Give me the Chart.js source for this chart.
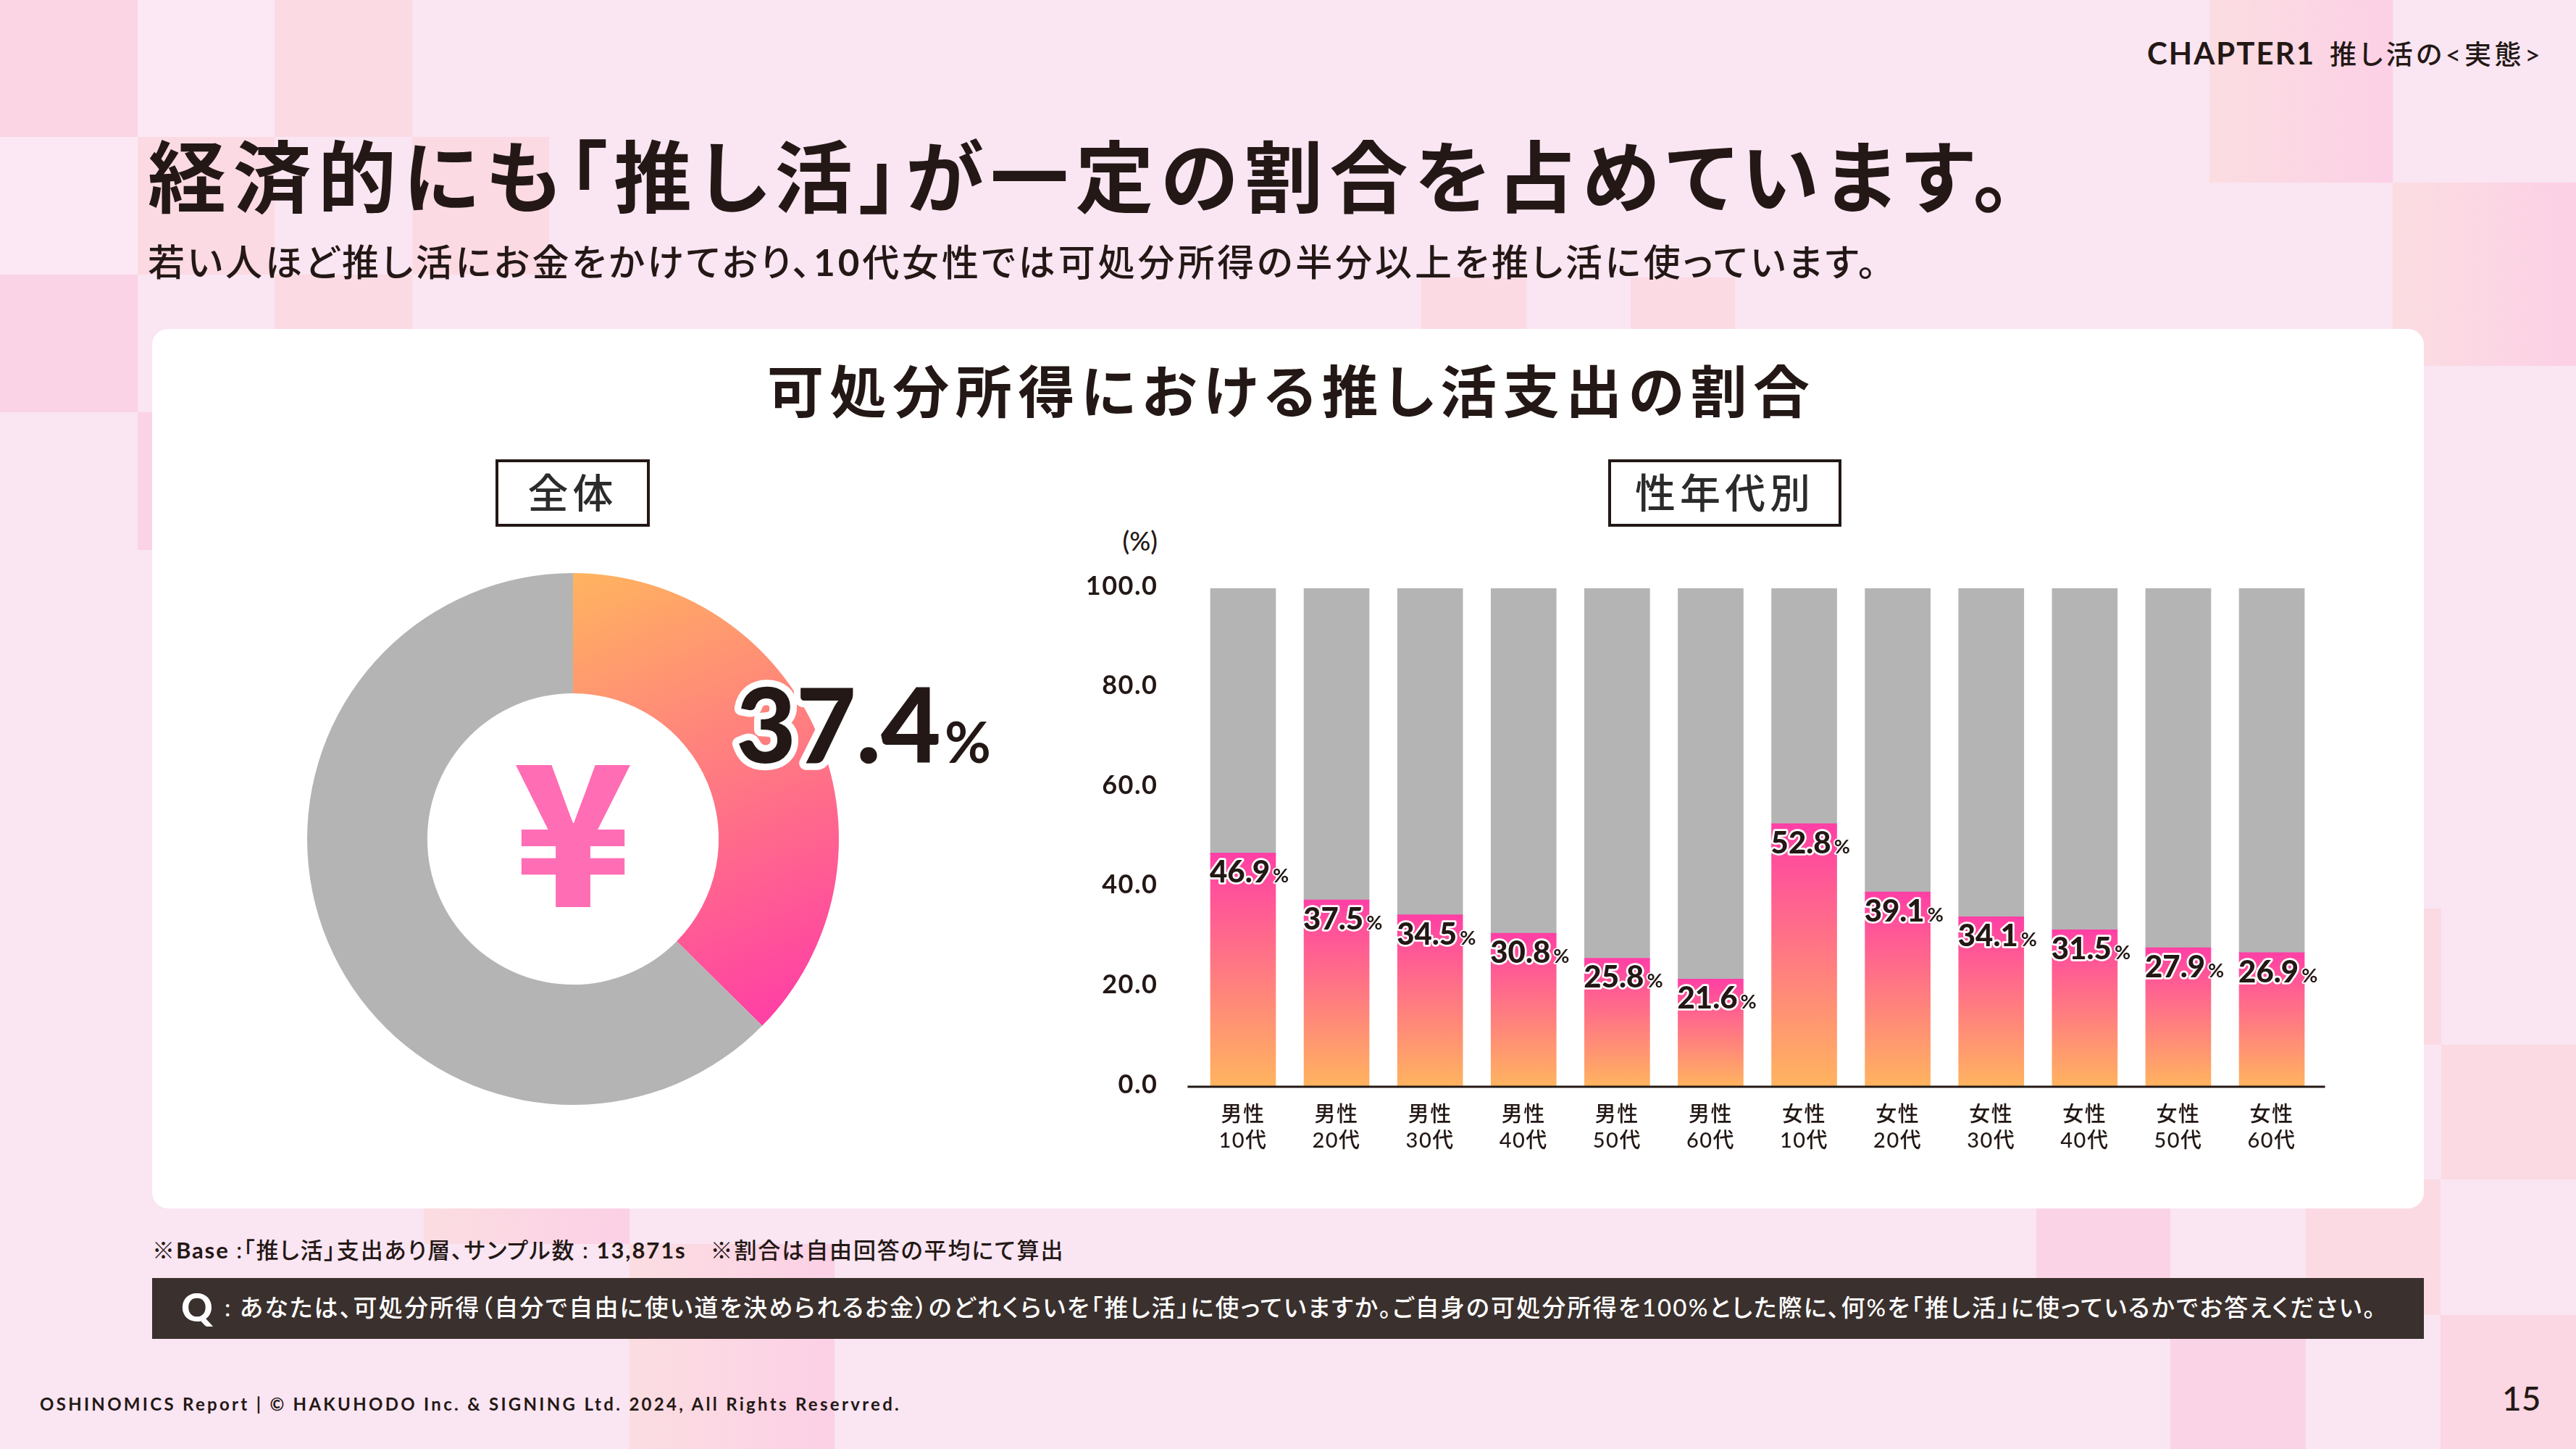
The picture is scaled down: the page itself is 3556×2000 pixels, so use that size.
<!DOCTYPE html>
<html lang="ja">
<head>
<meta charset="utf-8">
<title>可処分所得における推し活支出の割合</title>
<script src="https://cdn.jsdelivr.net/npm/chart.js@4"></script>
<style>
html, body { margin: 0; padding: 0; }
body { width: 3556px; height: 2000px; position: relative; overflow: hidden; background: #fae5f2;
  font-family: "Lato", "Noto Sans CJK JP", sans-serif; color: #231815; font-feature-settings: "palt"; }
.t { position: absolute; white-space: nowrap; }
.tile { position: absolute; }
.peach { background: #fbdae4; }
.pink { background: #fbd3e6; }
.pale { background: #fce8f4; }
.fade { background: linear-gradient(90deg, #fbdde1, #fcd0e6); }
#card { position: absolute; left: 210px; top: 454px; width: 3136px; height: 1214px; background: #fff; border-radius: 22px; }
.box { position: absolute; top: 634px; height: 93px; box-sizing: border-box; border: 4px solid #231815; background: #fff;
  text-align: center; line-height: 83px; font-size: 56px; font-weight: 500; letter-spacing: 6px; color: #2b2b2b; }
canvas { position: absolute; }
#qbar { position: absolute; left: 210px; top: 1764px; width: 3136px; height: 84px; background: #3a302d; }
</style>
</head>
<body>
<div class="tile peach" style="left:0;top:0;width:190px;height:189px;background:#fbd5e3"></div>
<div class="tile pale" style="left:190px;top:0;width:189px;height:189px"></div>
<div class="tile peach" style="left:379px;top:0;width:190px;height:189px"></div>
<div class="tile pale" style="left:0;top:189px;width:190px;height:190px"></div>
<div class="tile peach" style="left:190px;top:189px;width:189px;height:190px"></div>
<div class="tile peach" style="left:569px;top:189px;width:189px;height:190px"></div>
<div class="tile pink" style="left:0;top:379px;width:190px;height:190px"></div>
<div class="tile peach" style="left:379px;top:379px;width:190px;height:75px"></div>
<div class="tile pink" style="left:190px;top:569px;width:20px;height:190px"></div>
<div class="tile peach" style="left:1962px;top:383px;width:145px;height:71px"></div>
<div class="tile peach" style="left:2251px;top:383px;width:144px;height:71px"></div>
<div class="tile fade" style="left:3050px;top:0;width:253px;height:252px"></div>
<div class="tile fade" style="left:3303px;top:252px;width:253px;height:253px"></div>
<div class="tile peach" style="left:3346px;top:1254px;width:24px;height:188px"></div>
<div class="tile peach" style="left:3370px;top:1442px;width:186px;height:186px"></div>
<div class="tile pink" style="left:2811px;top:1628px;width:185px;height:187px"></div>
<div class="tile peach" style="left:3183px;top:1628px;width:186px;height:187px"></div>
<div class="tile pink" style="left:2996px;top:1815px;width:187px;height:185px"></div>
<div class="tile peach" style="left:3369px;top:1815px;width:187px;height:185px;background:#fbd6e3"></div>
<div class="tile fade" style="left:585px;top:1660px;width:284px;height:57px"></div>
<div class="tile fade" style="left:869px;top:1717px;width:283px;height:283px"></div>

<div id="card"></div>

<div class="t" style="left:2964px;top:50px;height:46px;line-height:46px;font-size:42px;font-weight:700;letter-spacing:2px">CHAPTER1<span style="font-size:37px;font-weight:500;letter-spacing:4.7px;margin-left:20px">推し活の&lt;実態&gt;</span></div>
<div class="t" style="left:204px;top:183px;height:120px;line-height:120px;font-size:108px;font-weight:700;letter-spacing:9.5px">経済的にも「推し活」が一定の割合を占めています。</div>
<div class="t" style="left:204px;top:332px;height:60px;line-height:60px;font-size:51px;font-weight:500;letter-spacing:3.9px">若い人ほど推し活にお金をかけており、<b>10</b>代女性では可処分所得の半分以上を推し活に使っています。</div>
<div class="t" style="left:1059px;top:495px;height:90px;line-height:90px;font-size:78px;font-weight:700;letter-spacing:8.6px">可処分所得における推し活支出の割合</div>
<div class="box" style="left:684px;width:213px">全体</div>
<div class="box" style="left:2220px;width:322px">性年代別</div>
<div class="t" style="left:1500px;top:726px;width:98px;height:40px;line-height:40px;text-align:right;font-size:36px;font-weight:500">(%)</div>

<div class="t" style="left:591px;top:980px;width:400px;height:310px;line-height:310px;text-align:center;font-family:'Noto Sans CJK JP';font-size:270px;font-weight:900;color:#ff6db4">¥</div>

<canvas id="donut" width="1020" height="800" style="left:380px;top:760px"></canvas>
<canvas id="bars" width="1820" height="860" style="left:1480px;top:760px"></canvas>

<div class="t" style="left:210px;top:1705px;height:40px;line-height:40px;font-size:31px;font-weight:500;letter-spacing:1.9px">※<b>Base</b> :「推し活」支出あり層、サンプル数 : <b>13,871s</b>　※割合は自由回答の平均にて算出</div>
<div id="qbar"></div>
<div class="t" style="left:250px;top:1764px;height:84px;line-height:80px;font-size:54px;font-weight:900;color:#fff">Q</div>
<div class="t" style="left:310px;top:1764px;height:84px;line-height:80px;font-size:33px;font-weight:500;letter-spacing:2.2px;color:#fff">: あなたは、可処分所得（自分で自由に使い道を決められるお金）のどれくらいを「推し活」に使っていますか。ご自身の可処分所得を100%とした際に、何%を「推し活」に使っているかでお答えください。</div>
<div class="t" style="left:55px;top:1920px;height:36px;line-height:36px;font-size:24px;font-weight:700;letter-spacing:3.3px">OSHINOMICS Report | © HAKUHODO Inc. &amp; SIGNING Ltd. 2024, All Rights Reservred.</div>
<div class="t" style="left:3454px;top:1900px;height:60px;line-height:60px;font-size:46px;font-weight:500;letter-spacing:0">15</div>

<script>
var categories = [
    ['男性', '10代'], ['男性', '20代'], ['男性', '30代'], ['男性', '40代'], ['男性', '50代'], ['男性', '60代'],
    ['女性', '10代'], ['女性', '20代'], ['女性', '30代'], ['女性', '40代'], ['女性', '50代'], ['女性', '60代']
];
var shareValues = [46.9, 37.5, 34.5, 30.8, 25.8, 21.6, 52.8, 39.1, 34.1, 31.5, 27.9, 26.9];
var restValues = [53.1, 62.5, 65.5, 69.2, 74.2, 78.4, 47.2, 60.9, 65.9, 68.5, 72.1, 73.1];
var yTicks = [0, 20, 40, 60, 80, 100];
var donutLabels = ['推し活支出', 'その他'];
var donutValues = [37.4, 62.6];

var textColor = '#231815';
var grey = '#b4b4b4';
var orange = '#ffb45f';
var hotPink = '#ff3fa5';

// number + small % with a white outline, same look on both charts
function drawValue(ctx, text, x, y, bigSize, smallSize, gap) {
    ctx.save();
    ctx.letterSpacing = '0px';
    ctx.textBaseline = 'alphabetic';
    ctx.textAlign = 'left';
    ctx.lineJoin = 'round';
    ctx.strokeStyle = '#fff';
    ctx.fillStyle = textColor;
    ctx.lineWidth = bigSize * 0.13;
    ctx.font = '900 ' + bigSize + 'px Lato';
    ctx.strokeText(text, x, y);
    ctx.fillText(text, x, y);
    var w = ctx.measureText(text).width;
    ctx.lineWidth = smallSize * 0.13;
    ctx.font = '700 ' + smallSize + 'px Lato';
    ctx.strokeText('%', x + w + gap, y);
    ctx.fillText('%', x + w + gap, y);
    ctx.restore();
}

var donutLabelPlugin = {
    id: 'donutLabel',
    afterDatasetsDraw: function(chart) {
        var arc = chart.getDatasetMeta(0).data[0];
        var p = arc.getCenterPoint();
        drawValue(chart.ctx, donutValues[0].toFixed(1), p.x - 37, p.y + 5, 143, 78, 5);
    }
};

new Chart(document.getElementById('donut'), {
    type: 'doughnut',
    plugins: [donutLabelPlugin],
    data: {
        labels: donutLabels,
        datasets: [{
            data: donutValues,
            borderWidth: 0,
            hoverOffset: 0,
            backgroundColor: function(context) {
                if (context.dataIndex != 0) return grey;
                var area = context.chart.chartArea;
                if (!area) return orange;
                var cx = (area.left + area.right) / 2;
                var g = context.chart.ctx.createLinearGradient(cx, area.top, cx + area.width * 0.36, area.top + area.height * 0.85);
                g.addColorStop(0, orange);
                g.addColorStop(1, hotPink);
                return g;
            }
        }]
    },
    options: {
        responsive: false,
        devicePixelRatio: 1,
        animation: false,
        events: [],
        cutout: '54.8%',
        layout: { padding: { left: 44, right: 242, top: 31, bottom: 35 } },
        plugins: { legend: { display: false }, tooltip: { enabled: false } }
    }
});

var barLabelPlugin = {
    id: 'barLabels',
    afterDatasetsDraw: function(chart) {
        chart.getDatasetMeta(0).data.forEach(function(bar, i) {
            drawValue(chart.ctx, shareValues[i].toFixed(1), bar.x - bar.width / 2 - 1, bar.y + 41, 42, 27, 4);
        });
    }
};

var baseLinePlugin = {
    id: 'baseLine',
    beforeDraw: function(chart) {
        // tick labels in the reference are tracked out a little
        chart.ctx.letterSpacing = '1.5px';
    },
    afterDatasetsDraw: function(chart) {
        var y = chart.scales.y.getPixelForValue(0);
        var ctx = chart.ctx;
        ctx.save();
        ctx.strokeStyle = textColor;
        ctx.lineWidth = 3;
        ctx.beginPath();
        ctx.moveTo(chart.chartArea.left - 12, y);
        ctx.lineTo(chart.chartArea.right + 9, y);
        ctx.stroke();
        ctx.restore();
    }
};

new Chart(document.getElementById('bars'), {
    type: 'bar',
    plugins: [barLabelPlugin, baseLinePlugin],
    data: {
        labels: categories,
        datasets: [
            {
                label: '推し活支出',
                data: shareValues,
                barThickness: 90,
                backgroundColor: function(context) {
                    var chart = context.chart;
                    if (!chart.chartArea || !chart.scales.y) return hotPink;
                    var g = chart.ctx.createLinearGradient(0, chart.scales.y.getPixelForValue(context.raw), 0, chart.scales.y.getPixelForValue(0));
                    g.addColorStop(0, hotPink);
                    g.addColorStop(1, orange);
                    return g;
                }
            },
            { label: 'その他', data: restValues, barThickness: 90, backgroundColor: grey }
        ]
    },
    options: {
        responsive: false,
        devicePixelRatio: 1,
        animation: false,
        events: [],
        layout: { padding: { left: 0, right: 99.4, top: 52, bottom: 0 } },
        plugins: { legend: { display: false }, tooltip: { enabled: false } },
        scales: {
            x: {
                stacked: true,
                grid: { display: false },
                border: { display: false },
                afterFit: function(axis) { axis.height = 120; axis.paddingLeft = 0; axis.paddingRight = 0; },
                ticks: {
                    color: textColor,
                    padding: 12,
                    maxRotation: 0,
                    autoSkip: false,
                    font: { family: 'Lato, "Noto Sans CJK JP"', size: 29, weight: '500', lineHeight: 1.26 }
                }
            },
            y: {
                stacked: true,
                min: 0,
                max: 100,
                grid: { display: false, drawTicks: false },
                border: { display: false },
                afterFit: function(axis) { axis.width = 171.4; axis.paddingTop = 0; axis.paddingBottom = 0; },
                afterBuildTicks: function(axis) { axis.ticks = yTicks.map(function(v) { return { value: v }; }); },
                ticks: {
                    color: textColor,
                    padding: 53,
                    labelOffset: -3,
                    font: { family: 'Lato', size: 36, weight: '700' },
                    callback: function(v) { return v.toFixed(1); }
                }
            }
        }
    }
});
</script>
</body>
</html>
